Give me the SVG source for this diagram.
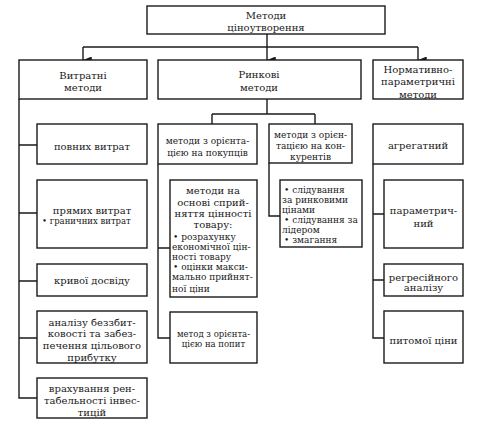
<svg xmlns="http://www.w3.org/2000/svg" width="480" height="427" viewBox="0 0 480 427">
<defs>
<style>
.box{fill:#fff;stroke:#1a1a1a;stroke-width:1.4}
.ln{fill:none;stroke:#1a1a1a;stroke-width:1.4}
text{font-family:"DejaVu Serif","Liberation Serif",serif;fill:#1a1a1a;font-size:10px}
.c{text-anchor:middle}
.s{font-size:9px}
.xs{font-size:8.5px}
</style>
<marker id="arr" viewBox="0 0 8 10" refX="4" refY="10" markerWidth="7" markerHeight="9" markerUnits="userSpaceOnUse" orient="auto-start-reverse">
<path d="M0,0 L8,0 L4,10 Z" fill="#1a1a1a"/>
</marker>
</defs>
<rect width="480" height="427" fill="#fff"/>
<g id="connectors">
<path class="ln" d="M267,34 V47"/>
<path class="ln" d="M83,47 H418"/>
<path class="ln" d="M83,47 V60" marker-end="url(#arr)"/>
<path class="ln" d="M267,47 V60" marker-end="url(#arr)"/>
<path class="ln" d="M418,47 V60" marker-end="url(#arr)"/>
<path class="ln" d="M19,99 V398 H37"/>
<path class="ln" d="M19,145 H37 M19,213 H37 M19,281 H37 M19,338 H37"/>
<path class="ln" d="M267,99 V114 M212,114 H315 M212,114 V124 M315,114 V124"/>
<path class="ln" d="M158,164 V338 H170 M158,248 H170"/>
<path class="ln" d="M269,163 V216 H280"/>
<path class="ln" d="M373,164 V338 H384 M373,214 H384 M373,280 H384"/>
</g>
<g id="top"><rect class="box" x="147" y="6" width="238" height="28"/><text class="c" x="266" y="19">Методи</text><text class="c" x="266" y="31">ціноутворення</text></g>
<g id="vytratni"><rect class="box" x="19" y="60" width="128" height="39"/><text class="c" x="83" y="79">Витратні</text><text class="c" x="83" y="91">методи</text></g>
<g id="rynkovi"><rect class="box" x="158" y="60" width="203" height="39"/><text class="c" x="259" y="78">Ринкові</text><text class="c" x="259" y="91">методи</text></g>
<g id="normatyvno"><rect class="box" x="373" y="60" width="90" height="39"/><text class="c" x="418" y="73">Нормативно-</text><text class="c" x="418" y="85">параметричні</text><text class="c" x="418" y="98">методи</text></g>
<g id="povnykh"><rect class="box" x="37" y="124" width="110" height="40"/><text class="c" x="92" y="149.5">повних витрат</text></g>
<g id="priamykh"><rect class="box" x="37" y="180" width="110" height="68"/><text class="c" x="92" y="214">прямих витрат</text><text class="xs" x="42" y="224">• граничних витрат</text></g>
<g id="kryvoi"><rect class="box" x="37" y="264" width="110" height="32"/><text class="c" x="92" y="284">кривої досвіду</text></g>
<g id="analizu"><rect class="box" x="37" y="311" width="110" height="52"/><text class="c" x="92" y="325.5">аналізу беззбит-</text><text class="c" x="92" y="337">ковості та забез-</text><text class="c" x="92" y="349">печення цільового</text><text class="c" x="92" y="360.5">прибутку</text></g>
<g id="vrakhuvannia"><rect class="box" x="37" y="378" width="110" height="40"/><text class="c" x="92" y="392">врахування рен-</text><text class="c" x="92" y="404">табельності інвес-</text><text class="c" x="92" y="415.5">тицій</text></g>
<g id="pokuptsiv"><rect class="box" x="158" y="124" width="99" height="40"/><text class="c s" x="207.5" y="144">методи з орієнта-</text><text class="c s" x="207.5" y="155.5">цією на покупців</text></g>
<g id="konkurentiv"><rect class="box" x="269" y="124" width="83" height="39"/><text class="c s" x="310.5" y="138">методи з орієн-</text><text class="c s" x="310.5" y="149">тацією на кон-</text><text class="c s" x="310.5" y="160">курентів</text></g>
<g id="spryiniattia"><rect class="box" x="170" y="180" width="87" height="117"/>
<text class="c" x="213" y="194">методи на</text><text class="c" x="213" y="205.5">основі сприй-</text><text class="c" x="213" y="216.5">няття цінності</text><text class="c" x="213" y="228">товару:</text>
<text class="s" x="173" y="240">• розрахунку</text><text class="s" x="172" y="250">економічної цін-</text><text class="s" x="172" y="260">ності товару</text><text class="s" x="173" y="270">• оцінки макси-</text><text class="s" x="172" y="280">мально прийнят-</text><text class="s" x="172" y="291.5">ної ціни</text></g>
<g id="popyt"><rect class="box" x="170" y="312" width="87" height="51"/><text class="c xs" x="213.5" y="337">метод з орієнта-</text><text class="c xs" x="213.5" y="347">цією на попит</text></g>
<g id="slidyvannia"><rect class="box" x="280" y="180" width="82" height="67"/>
<text class="s" x="284" y="193">• слідування</text><text class="s" x="282" y="203">за ринковими</text><text class="s" x="282" y="213">цінами</text><text class="s" x="284" y="223">• слідування за</text><text class="s" x="282" y="233">лідером</text><text class="s" x="284" y="243">• змагання</text></g>
<g id="ahrehatnyi"><rect class="box" x="373" y="124" width="90" height="40"/><text class="c" x="418" y="149">агрегатний</text></g>
<g id="parametrychnyi"><rect class="box" x="384" y="180" width="79" height="68"/><text class="c" x="423.5" y="214">параметрич-</text><text class="c" x="423.5" y="227">ний</text></g>
<g id="rehresiinoho"><rect class="box" x="384" y="264" width="79" height="32"/><text class="c" x="423.5" y="280.5">регресійного</text><text class="c" x="423.5" y="291">аналізу</text></g>
<g id="pytomoi"><rect class="box" x="384" y="311" width="79" height="52"/><text class="c" x="423.5" y="344">питомої ціни</text></g>
</svg>
